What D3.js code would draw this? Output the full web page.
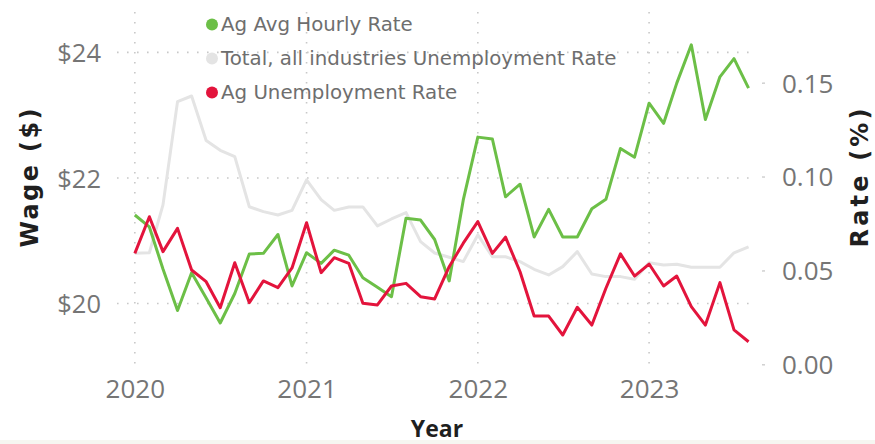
<!DOCTYPE html>
<html>
<head>
<meta charset="utf-8">
<script src="https://cdn.jsdelivr.net/npm/d3@7"></script>
<style>
  html, body { margin: 0; padding: 0; background: #ffffff; }
  svg { display: block; }
</style>
</head>
<body>
<svg id="chart" width="875" height="444"></svg>
<script>
// Monthly observations, Jan 2020 – Aug 2023
const months = [
  "2020-01","2020-02","2020-03","2020-04","2020-05","2020-06","2020-07","2020-08","2020-09","2020-10","2020-11","2020-12",
  "2021-01","2021-02","2021-03","2021-04","2021-05","2021-06","2021-07","2021-08","2021-09","2021-10","2021-11","2021-12",
  "2022-01","2022-02","2022-03","2022-04","2022-05","2022-06","2022-07","2022-08","2022-09","2022-10","2022-11","2022-12",
  "2023-01","2023-02","2023-03","2023-04","2023-05","2023-06","2023-07","2023-08"
];

// Agricultural average hourly wage ($)
const agHourlyRate = [
  21.41, 21.22, 20.55, 19.89, 20.49, 20.09, 19.69, 20.16, 20.79, 20.80, 21.10, 20.28,
  20.81, 20.64, 20.85, 20.77, 20.41, 20.26, 20.11, 21.36, 21.33, 21.02, 20.36, 21.65,
  22.65, 22.62, 21.70, 21.90, 21.06, 21.50, 21.06, 21.06, 21.51, 21.66, 22.47, 22.33,
  23.19, 22.87, 23.51, 24.12, 22.93, 23.61, 23.90, 23.43
];

// Unemployment rate, total of all industries
const totalUnemployment = [
  0.0591, 0.0594, 0.0849, 0.1399, 0.1429, 0.1192, 0.1140, 0.1106, 0.0839, 0.0813, 0.0795, 0.0820,
  0.0982, 0.0877, 0.0820, 0.0838, 0.0838, 0.0737, 0.0774, 0.0808, 0.0653, 0.0593, 0.0570, 0.0547,
  0.0689, 0.0573, 0.0573, 0.0547, 0.0506, 0.0476, 0.0520, 0.0600, 0.0481, 0.0467, 0.0467, 0.0453,
  0.0541, 0.0529, 0.0533, 0.0517, 0.0517, 0.0517, 0.0594, 0.0626
];

// Agricultural unemployment rate
const agUnemployment = [
  0.0591, 0.0786, 0.0600, 0.0724, 0.0502, 0.0440, 0.0301, 0.0541, 0.0328, 0.0444, 0.0408, 0.0513,
  0.0754, 0.0488, 0.0568, 0.0538, 0.0325, 0.0316, 0.0417, 0.0431, 0.0360, 0.0348, 0.0520, 0.0645,
  0.0760, 0.0591, 0.0677, 0.0493, 0.0257, 0.0257, 0.0156, 0.0304, 0.0209, 0.0405, 0.0588, 0.0470,
  0.0534, 0.0417, 0.0470, 0.0307, 0.0209, 0.0435, 0.0183, 0.0120
];

const wageTicks = [20, 22, 24];
const rateTicks = [0.00, 0.05, 0.10, 0.15];
const yearTicks = ["2020", "2021", "2022", "2023"];

const legendItems = [
  { label: "Ag Avg Hourly Rate", color: "#6cbf47" },
  { label: "Total, all industries Unemployment Rate", color: "#e4e4e4" },
  { label: "Ag Unemployment Rate", color: "#e3143c" }
];

const parseMonth = d3.timeParse("%Y-%m");
const dates = months.map(parseMonth);

const svg = d3.select("#chart");
const plot = { left: 117, right: 757, top: 10, bottom: 364.3 };

const x = d3.scaleTime()
  .domain([new Date(2019, 10, 24), new Date(2023, 7, 19)])
  .range([plot.left, plot.right]);

const yWage = d3.scaleLinear()
  .domain([19.033, 24.674])
  .range([plot.bottom, plot.top]);

const yRate = d3.scaleLinear()
  .domain([0, 0.1887])
  .range([plot.bottom, plot.top]);

// faint strip along the bottom edge
svg.append("rect")
  .attr("x", 0).attr("y", 440).attr("width", 875).attr("height", 4)
  .attr("fill", "#f6f6f1");

// dotted gridlines
const grid = svg.append("g").attr("stroke", "#c8c8c8").attr("stroke-width", 1.6)
  .attr("stroke-dasharray", "1.6,8.4").attr("fill", "none");

grid.selectAll("line.h").data(wageTicks).join("line")
  .attr("class", "h")
  .attr("x1", plot.left).attr("x2", plot.right)
  .attr("y1", d => yWage(d)).attr("y2", d => yWage(d));

const yearDates = yearTicks.map(d3.timeParse("%Y"));
grid.selectAll("line.v").data(yearDates).join("line")
  .attr("class", "v")
  .attr("x1", d => x(d)).attr("x2", d => x(d))
  .attr("y1", plot.top + 2).attr("y2", plot.bottom);

const tickFont = "'Open Sans', 'Noto Sans', sans-serif";
const tickColor = "#757575";

// left axis: wage
const leftAxis = d3.axisLeft(yWage).tickValues(wageTicks)
  .tickFormat(d => "$" + d).tickSize(0).tickPadding(0);
svg.append("g")
  .attr("transform", "translate(101,0)")
  .call(leftAxis)
  .call(g => g.select(".domain").remove())
  .call(g => g.selectAll("text")
    .attr("font-family", tickFont).attr("font-size", 25.5).attr("fill", tickColor)
    .attr("dy", "0.36em"));

// right axis: rate
const rightAxis = d3.axisRight(yRate).tickValues(rateTicks)
  .tickFormat(d3.format(".2f")).tickSize(3).tickPadding(17);
svg.append("g")
  .attr("transform", "translate(762,0)")
  .call(rightAxis)
  .call(g => g.select(".domain").remove())
  .call(g => g.selectAll("line").attr("stroke", "#d0d0d0").attr("stroke-width", 1.5))
  .call(g => g.selectAll("text")
    .attr("font-family", tickFont).attr("font-size", 26).attr("fill", tickColor)
    .attr("dy", "0.36em"));

// bottom axis: years
const bottomAxis = d3.axisBottom(x).tickValues(yearDates)
  .tickFormat(d3.timeFormat("%Y")).tickSize(0).tickPadding(0);
svg.append("g")
  .attr("transform", "translate(0,379)")
  .call(bottomAxis)
  .call(g => g.select(".domain").remove())
  .call(g => g.selectAll("text")
    .attr("font-family", tickFont).attr("font-size", 26).attr("fill", tickColor)
    .attr("dy", "0.74em"));

// series lines
const wageLine = d3.line().x((d, i) => x(dates[i])).y(d => yWage(d));
const rateLine = d3.line().x((d, i) => x(dates[i])).y(d => yRate(d));

svg.append("path").datum(totalUnemployment)
  .attr("d", rateLine).attr("fill", "none")
  .attr("stroke", legendItems[1].color).attr("stroke-width", 3)
  .attr("stroke-linejoin", "round");

svg.append("path").datum(agHourlyRate)
  .attr("d", wageLine).attr("fill", "none")
  .attr("stroke", legendItems[0].color).attr("stroke-width", 3)
  .attr("stroke-linejoin", "round");

svg.append("path").datum(agUnemployment)
  .attr("d", rateLine).attr("fill", "none")
  .attr("stroke", legendItems[2].color).attr("stroke-width", 3)
  .attr("stroke-linejoin", "round");

// legend
const legend = svg.append("g").attr("transform", "translate(212,24.5)");
const rows = legend.selectAll("g").data(legendItems).join("g")
  .attr("transform", (d, i) => `translate(0,${i * 34})`);
rows.append("circle").attr("r", 6).attr("fill", d => d.color);
rows.append("text")
  .attr("x", 9).attr("dy", "0.35em")
  .attr("font-family", "'DejaVu Sans', Verdana, sans-serif")
  .attr("font-size", 19.8).attr("fill", "#6e6e6e")
  .text(d => d.label);

// axis titles
const titleFont = "'DejaVu Sans', 'Open Sans', sans-serif";
svg.append("text")
  .attr("transform", "translate(29,178) rotate(-90)")
  .attr("text-anchor", "middle").attr("dy", "0.36em")
  .attr("font-family", titleFont).attr("font-weight", 700)
  .attr("font-size", 24).attr("fill", "#1f1f1f")
  .attr("textLength", 139).attr("lengthAdjust", "spacing")
  .text("Wage ($)");

svg.append("text")
  .attr("transform", "translate(859,178) rotate(-90)")
  .attr("text-anchor", "middle").attr("dy", "0.36em")
  .attr("font-family", titleFont).attr("font-weight", 700)
  .attr("font-size", 24).attr("fill", "#1f1f1f")
  .attr("textLength", 139).attr("lengthAdjust", "spacing")
  .text("Rate (%)");

svg.append("text")
  .attr("x", 437).attr("y", 437)
  .attr("text-anchor", "middle")
  .attr("font-family", "'Open Sans', 'Noto Sans', sans-serif").attr("font-weight", 700)
  .attr("font-size", 23).attr("fill", "#1f1f1f")
  .text("Year");
</script>
</body>
</html>
